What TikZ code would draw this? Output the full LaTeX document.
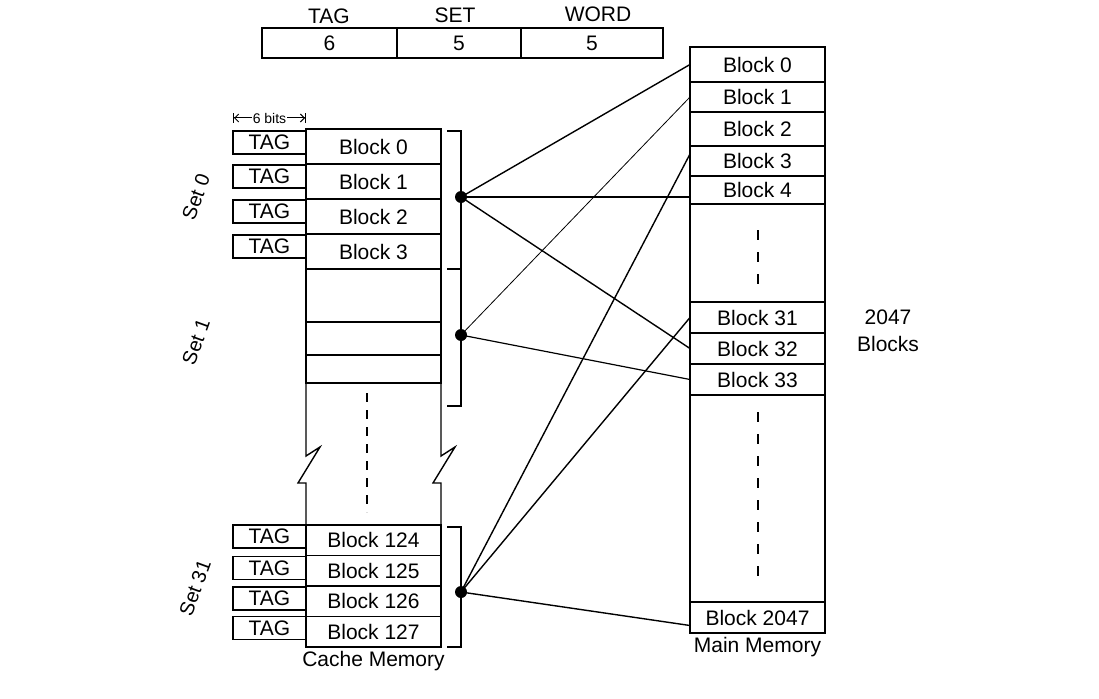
\documentclass[tikz,border=0pt]{standalone}
\usepackage{fontspec}
\setmainfont{Liberation Sans}
\usetikzlibrary{positioning, arrows.meta}

\begin{document}
\begin{tikzpicture}[x=1pt, y=-1pt, line width=1.4pt,
    every node/.style={font=\fontsize{21}{27}\selectfont},
    field/.style={draw, minimum height=30pt, inner sep=0pt, outer sep=0pt},
    cblock/.style={draw, minimum width=135pt, inner sep=0pt, outer sep=0pt},
    tagbox/.style={draw, minimum width=73pt, minimum height=23pt, inner sep=0pt, outer sep=0pt},
    mblock/.style={draw, minimum width=135pt, inner sep=0pt, outer sep=0pt},
    setlabel/.style={rotate=70, inner sep=0pt, font=\fontsize{20}{20}\selectfont}]
                \useasboundingbox (0,0) rectangle (1099,698);

                % Address format
                \node[field, minimum width=135pt] (ftag) at (329.5,43) {6};
                \node[field, minimum width=124pt, right=0pt of ftag] (fset) {5};
                \node[field, minimum width=142pt, right=0pt of fset] (fword) {5};
                \node (htag) at (329,16) {TAG};
                \node (hset) at (455,15) {SET};
                \node (hword) at (598,14) {WORD};

                % Cache memory
                \node[cblock, minimum height=35pt, anchor=north] (c0) at (373.5,129) {Block 0};
                \node[cblock, minimum height=35pt, below=0pt of c0] (c1) {Block 1};
                \node[cblock, minimum height=35pt, below=0pt of c1] (c2) {Block 2};
                \node[cblock, minimum height=35pt, below=0pt of c2] (c3) {Block 3};
                \node[cblock, minimum height=53pt, below=0pt of c3] (s1a) {};
                \node[cblock, minimum height=33pt, below=0pt of s1a] (s1b) {};
                \node[cblock, minimum height=28pt, below=0pt of s1b] (s1c) {};
                \node[cblock, minimum height=30.5pt, anchor=north] (c124) at (373.5,525) {Block 124};
                \node[cblock, minimum height=30.5pt, below=0pt of c124] (c125) {Block 125};
                \node[cblock, minimum height=30.5pt, below=0pt of c125] (c126) {Block 126};
                \node[cblock, minimum height=30.5pt, below=0pt of c126] (c127) {Block 127};

                \node[tagbox, anchor=north east] (t0) at ([yshift=-2pt]c0.north west) {TAG};
                \node[tagbox, anchor=north east] (t1) at ([yshift=-1pt]c1.north west) {TAG};
                \node[tagbox, anchor=north east] (t2) at ([yshift=-1pt]c2.north west) {TAG};
                \node[tagbox, anchor=north east] (t3) at ([yshift=-1pt]c3.north west) {TAG};
                \node[tagbox, anchor=north east] (t124) at (c124.north west) {TAG};
                \node[tagbox, anchor=north east] (t125) at ([yshift=-1pt]c125.north west) {TAG};
                \node[tagbox, anchor=north east] (t126) at ([yshift=-1pt]c126.north west) {TAG};
                \node[tagbox, anchor=north east] (t127) at (c127.north west) {TAG};

                \coordinate (bitsl) at (t0.north west |- 0,118);
                \coordinate (bitsr) at (t0.north east |- 0,118);
                \draw[line width=1pt, {Bar[width=9pt] Straight Barb[length=4pt]}-{Straight Barb[length=4pt] Bar[width=9pt]}]
                    (bitsl) -- (bitsr) node[midway, fill=white, inner sep=1pt, font=\fontsize{14}{16}\selectfont] (bits) {6 bits};

                \node[setlabel] (set0) at (196,197) {Set 0};
                \node[setlabel] (set1) at (196,342) {Set 1};
                \node[setlabel] (set31) at (195,588) {Set 31};

                % Break in the cache
                \draw (s1c.south west) -- ++(0,73) -- ++(14,-9) -- ++(-22,36) -- ++(8,0) -- (c124.north west);
                \draw (s1c.south east) -- ++(0,73) -- ++(14,-9) -- ++(-22,36) -- ++(8,0) -- (c124.north east);
                \draw[line width=2pt, dash pattern=on 9pt off 8pt] (367,393) -- (367,512);

                % Set brackets
                \draw (447,131) -| (461,406) -- (447,406);
                \draw[line width=2.4pt] (447,269) -- (461,269);
                \draw (447,527) -| (461,647) -- (447,647);
                \coordinate (sel0) at (461,197);
                \coordinate (sel1) at (461,335);
                \coordinate (sel31) at (461,592);

                \node[below=0pt of c127] (cachelbl) {Cache Memory};

                % Main memory
                \node[mblock, minimum height=35pt, anchor=north] (m0) at (757.5,47) {Block 0};
                \node[mblock, minimum height=30pt, below=0pt of m0] (m1) {Block 1};
                \node[mblock, minimum height=34pt, below=0pt of m1] (m2) {Block 2};
                \node[mblock, minimum height=30pt, below=0pt of m2] (m3) {Block 3};
                \node[mblock, minimum height=28pt, below=0pt of m3] (m4) {Block 4};
                \node[mblock, minimum height=98pt, below=0pt of m4] (mgap1) {};
                \node[mblock, minimum height=31pt, below=0pt of mgap1] (m31) {Block 31};
                \node[mblock, minimum height=31pt, below=0pt of m31] (m32) {Block 32};
                \node[mblock, minimum height=31pt, below=0pt of m32] (m33) {Block 33};
                \node[mblock, minimum height=207pt, below=0pt of m33] (mgap2) {};
                \node[mblock, minimum height=31pt, below=0pt of mgap2] (m2047) {Block 2047};
                \draw[line width=2pt, dash pattern=on 10pt off 12pt] ([yshift=-26pt]mgap1.north) -- ([yshift=14pt]mgap1.south);
                \draw[line width=2pt, dash pattern=on 10pt off 12pt] ([yshift=-17pt]mgap2.north) -- ([yshift=22pt]mgap2.south);

                \node[below=0pt of m2047] (mainlbl) {Main Memory};
                \node[align=center] (count) at (888,331) {2047\\Blocks};

                % Lines
                \draw (sel0) -- (m0.west);
                \draw (sel0) -- (sel0 -| m4.west);
                \draw (sel0) -- (m32.west);
                \draw[line width=0.8pt] (sel1) -- (m1.west);
                \draw[line width=1.2pt] (sel1) -- (m33.west);
                \draw (sel31) -- ([yshift=7pt]m3.west);
                \draw (sel31) -- (m31.west);
                \draw (sel31) -- ([yshift=-8pt]m2047.west);

                \fill (sel0) circle (6pt);
                \fill (sel1) circle (6pt);
                \fill (sel31) circle (6pt);
            \end{tikzpicture}
\end{document}
